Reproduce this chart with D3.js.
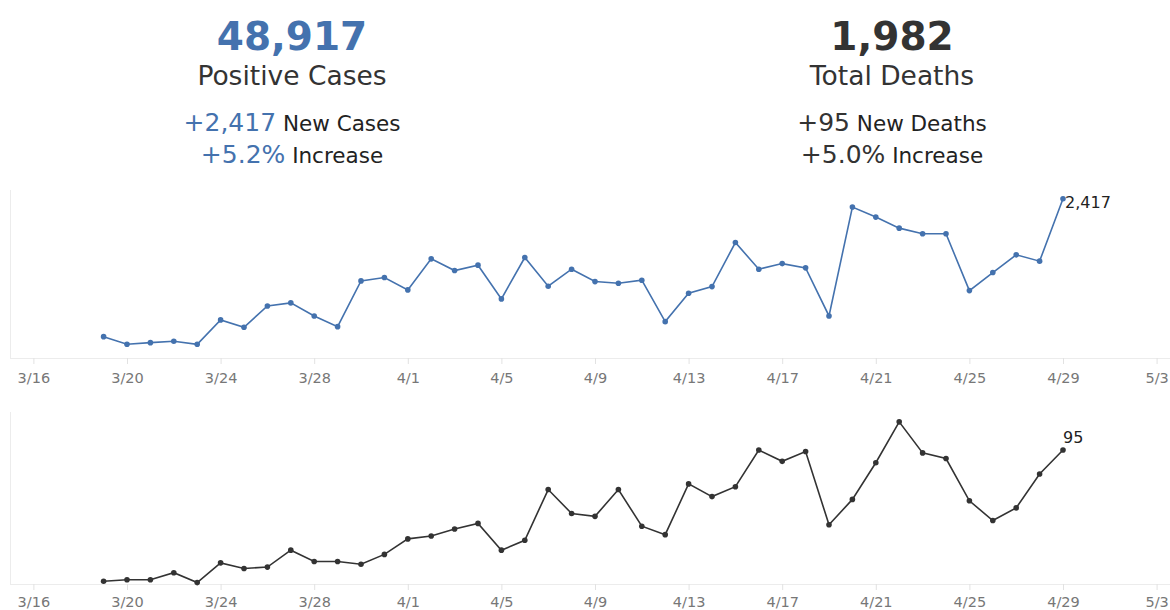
<!DOCTYPE html>
<html>
<head>
<meta charset="utf-8">
<script src="https://cdn.jsdelivr.net/npm/d3@7"></script>
<style>
  body { margin: 0; background: #fff; }
  svg { display: block; font-family: 'DejaVu Sans', sans-serif; }
  .domain { stroke: #ececec; }
  .tick line { stroke: #e2e2e2; }
  .tick text { fill: #777; font-size: 14.5px; }
</style>
</head>
<body>
<svg width="1170" height="610"></svg>
<script>
let days = ['3/19','3/20','3/21','3/22','3/23','3/24','3/25','3/26','3/27','3/28','3/29','3/30','3/31',
  '4/1','4/2','4/3','4/4','4/5','4/6','4/7','4/8','4/9','4/10','4/11','4/12','4/13','4/14','4/15',
  '4/16','4/17','4/18','4/19','4/20','4/21','4/22','4/23','4/24','4/25','4/26','4/27','4/28','4/29']
let newCases = [324,208,233,254,208,578,467,790,836,638,476,1170,1221,
  1034,1505,1327,1409,897,1525,1090,1348,1160,1135,1181,552,983,1084,1753,
  1348,1433,1368,638,2291,2139,1971,1885,1885,1023,1297,1566,1470,2417]
let newDeaths = [2,3,3,8,1,15,11,12,24,16,16,14,21,
  32,34,39,43,24,31,67,50,48,67,41,35,71,62,69,
  95,87,94,42,60,86,115,93,89,59,45,54,78,95]
let tickDays = ['3/16','3/20','3/24','3/28','4/1','4/5','4/9','4/13','4/17','4/21','4/25','4/29','5/3']
let dayRange = ['3/15','5/4']

let totalCases = '48,917', totalDeaths = '1,982'
let casesNew = '+2,417', casesPct = '+5.2%'
let deathsNew = '+95', deathsPct = '+5.0%'
let casesMax = 2550, deathsMax = 122

let blue = '#4472ae'
let dark = '#333'

let parse = s => d3.timeParse('%Y/%m/%d')('2020/' + s)
let fmt = d3.timeFormat('%-m/%-d')

let svg = d3.select('svg')

let x = d3.scaleTime()
  .domain(dayRange.map(parse))
  .range([10, 1180])

// header blocks
let head = (cx, big, label, n1, t1, n2, t2, color) => {
  let g = svg.append('g').attr('text-anchor', 'middle')
  g.append('text').attr('x', cx).attr('y', 50)
    .attr('font-size', 39).attr('font-weight', 'bold').attr('fill', color).text(big)
  g.append('text').attr('x', cx).attr('y', 85)
    .attr('font-size', 26.5).attr('fill', '#333').text(label)
  let a = g.append('text').attr('x', cx).attr('y', 131)
  a.append('tspan').attr('font-size', 25).attr('fill', color).text(n1)
  a.append('tspan').attr('font-size', 21.5).attr('fill', '#222').text(' ' + t1)
  let b = g.append('text').attr('x', cx).attr('y', 163)
  b.append('tspan').attr('font-size', 25).attr('fill', color).text(n2)
  b.append('tspan').attr('font-size', 21.5).attr('fill', '#222').text(' ' + t2)
}
head(292, totalCases, 'Positive Cases', casesNew, 'New Cases', casesPct, 'Increase', blue)
head(892, totalDeaths, 'Total Deaths', deathsNew, 'New Deaths', deathsPct, 'Increase', dark)

let panel = (values, max, top, bottom, pad, color, labelFn) => {
  let y = d3.scaleLinear().domain([0, max]).range([bottom, top])
  let data = days.map((d, i) => [parse(d), values[i]])

  svg.append('line')
    .attr('x1', 10.5).attr('x2', 10.5)
    .attr('y1', top).attr('y2', bottom)
    .attr('stroke', '#ececec')

  let ax = svg.append('g')
    .attr('transform', 'translate(0,' + bottom + ')')
    .call(d3.axisBottom(x)
      .tickValues(tickDays.map(parse))
      .tickFormat(fmt)
      .tickSize(6)
      .tickSizeOuter(0)
      .tickPadding(pad))
  ax.select('.domain').attr('d', 'M10,0.5H1170')
  ax.selectAll('.tick text').attr('font-family', 'DejaVu Sans')

  let line = d3.line().x(d => x(d[0])).y(d => y(d[1]))
  svg.append('path')
    .datum(data)
    .attr('fill', 'none')
    .attr('stroke', color)
    .attr('stroke-width', 1.6)
    .attr('d', line)

  svg.append('g')
    .selectAll('circle')
    .data(data)
    .enter()
    .append('circle')
    .attr('cx', d => x(d[0]))
    .attr('cy', d => y(d[1]))
    .attr('r', 2.8)
    .attr('fill', color)

  let last = data[data.length - 1]
  labelFn(svg.append('text')
    .attr('font-size', 16)
    .attr('fill', '#222')
    .text(d3.format(',')(last[1])), x(last[0]), y(last[1]))
}

panel(newCases, casesMax, 190, 358, 9, blue, (t, px, py) => {
  t.attr('x', px + 2).attr('y', py + 9)
})
panel(newDeaths, deathsMax, 412, 584, 6.5, dark, (t, px, py) => {
  t.attr('x', px).attr('y', py - 7)
})
</script>
</body>
</html>
